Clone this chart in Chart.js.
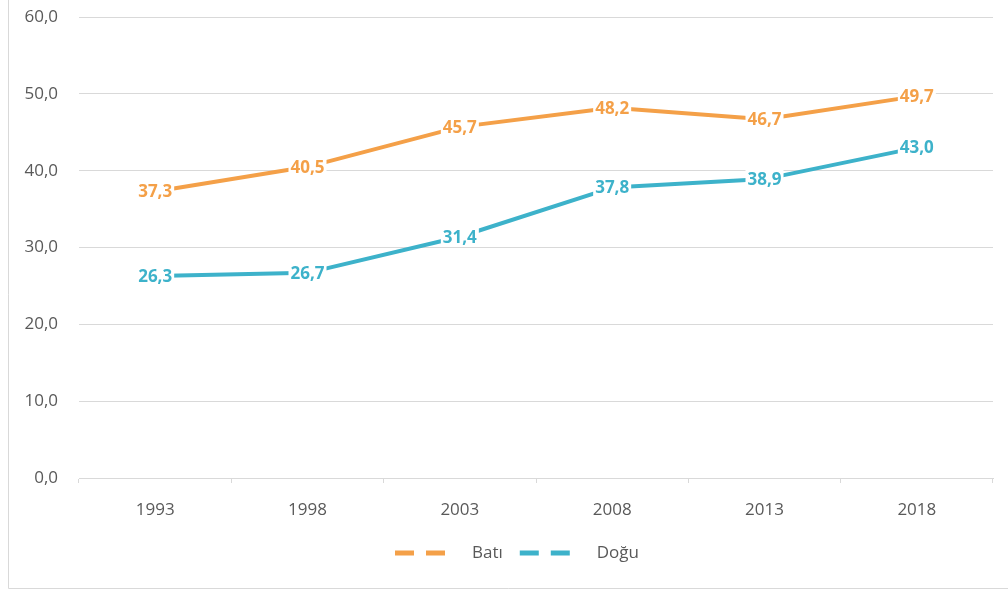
<!DOCTYPE html>
<html>
<head>
<meta charset="utf-8">
<script src="https://cdn.jsdelivr.net/npm/chart.js@4.4.1/dist/chart.umd.min.js"></script>
<style>
  html, body { margin: 0; padding: 0; background: #fff; }
  #wrap { position: relative; width: 1008px; height: 592px; }
  canvas { display: block; }
</style>
</head>
<body>
<div id="wrap"><canvas id="c" width="1008" height="592"></canvas></div>
<script>
const categories = ['1993', '1998', '2003', '2008', '2013', '2018'];
const batiValues = [37.3, 40.5, 45.7, 48.2, 46.7, 49.7];
const doguValues = [26.3, 26.7, 31.4, 37.8, 38.9, 43.0];
const seriesNames = ['Batı', 'Doğu'];
const seriesColors = ['#F4A048', '#3DB2CA'];
const yTicks = [0, 10, 20, 30, 40, 50, 60];

const FONT = "'Open Sans', 'Liberation Sans', sans-serif";
const fmt = v => v.toFixed(1).replace('.', ',');

const frame = {
  id: 'frame',
  beforeDraw(chart) {
    const ctx = chart.ctx;
    ctx.save();
    ctx.strokeStyle = '#d9d9d9';
    ctx.lineWidth = 1;
    ctx.beginPath();
    ctx.moveTo(8.5, 0);
    ctx.lineTo(8.5, 588.5);
    ctx.lineTo(1008, 588.5);
    ctx.stroke();
    ctx.restore();
  }
};

const dataLabels = {
  id: 'dataLabels',
  afterDatasetsDraw(chart) {
    const ctx = chart.ctx;
    ctx.save();
    ctx.font = "bold 17px " + FONT;
    ctx.textAlign = 'center';
    ctx.textBaseline = 'middle';
    chart.data.datasets.forEach((ds, i) => {
      const meta = chart.getDatasetMeta(i);
      meta.data.forEach((pt, j) => {
        const txt = fmt(ds.data[j]);
        const w = ctx.measureText(txt).width;
        ctx.fillStyle = '#ffffff';
        ctx.fillRect(pt.x - w / 2 - 2, pt.y - 10, w + 4, 20);
        ctx.fillStyle = ds.borderColor;
        ctx.fillText(txt, pt.x, pt.y + 1);
      });
    });
    ctx.restore();
  }
};

const customLegend = {
  id: 'customLegend',
  afterDraw(chart) {
    const ctx = chart.ctx;
    ctx.save();
    ctx.font = "17px " + FONT;
    ctx.textBaseline = 'middle';
    const y = 553;
    const lineW = 50, gapText = 27, gapItem = 17;
    const items = chart.data.datasets.map(ds => ({ label: ds.label, color: ds.borderColor }));
    let x = 395;
    items.forEach(it => {
      it.tw = ctx.measureText(it.label).width;
      ctx.strokeStyle = it.color;
      ctx.lineWidth = 5;
      ctx.lineCap = 'butt';
      ctx.setLineDash([19, 12]);
      ctx.beginPath();
      ctx.moveTo(x, y);
      ctx.lineTo(x + lineW, y);
      ctx.stroke();
      ctx.setLineDash([]);
      ctx.fillStyle = '#595959';
      ctx.textAlign = 'left';
      ctx.fillText(it.label, x + lineW + gapText, y);
      x += lineW + gapText + it.tw + gapItem;
    });
    ctx.restore();
  }
};

new Chart(document.getElementById('c'), {
  type: 'line',
  data: {
    labels: categories,
    datasets: [
      { label: seriesNames[0], data: batiValues, borderColor: seriesColors[0], backgroundColor: seriesColors[0] },
      { label: seriesNames[1], data: doguValues, borderColor: seriesColors[1], backgroundColor: seriesColors[1] }
    ]
  },
  options: {
    responsive: false,
    animation: false,
    layout: { padding: { left: 0, right: 15, top: 17, bottom: 54 } },
    elements: {
      line: { borderWidth: 4, tension: 0, borderCapStyle: 'round', borderJoinStyle: 'round', fill: false },
      point: { radius: 0, hoverRadius: 0 }
    },
    plugins: {
      legend: { display: false },
      tooltip: { enabled: false }
    },
    scales: {
      x: {
        offset: true,
        grid: { offset: true, drawOnChartArea: false, drawTicks: true, tickLength: 5, color: '#d9d9d9' },
        border: { display: true, color: '#d9d9d9' },
        ticks: { color: '#595959', font: { family: FONT, size: 17 }, padding: 17, maxRotation: 0 },
        afterFit(s) { s.height = 60; s.paddingLeft = 0; s.paddingRight = 0; }
      },
      y: {
        min: 0, max: 60,
        afterBuildTicks(s) { s.ticks = yTicks.map(v => ({ value: v })); },
        grid: { color: '#d9d9d9', drawTicks: false },
        border: { display: false },
        ticks: { color: '#595959', font: { family: FONT, size: 17 }, padding: 21, callback: v => fmt(v) },
        afterFit(s) { s.width = 79; s.paddingTop = 0; s.paddingBottom = 0; }
      }
    }
  },
  plugins: [frame, dataLabels, customLegend]
});
</script>
</body>
</html>
